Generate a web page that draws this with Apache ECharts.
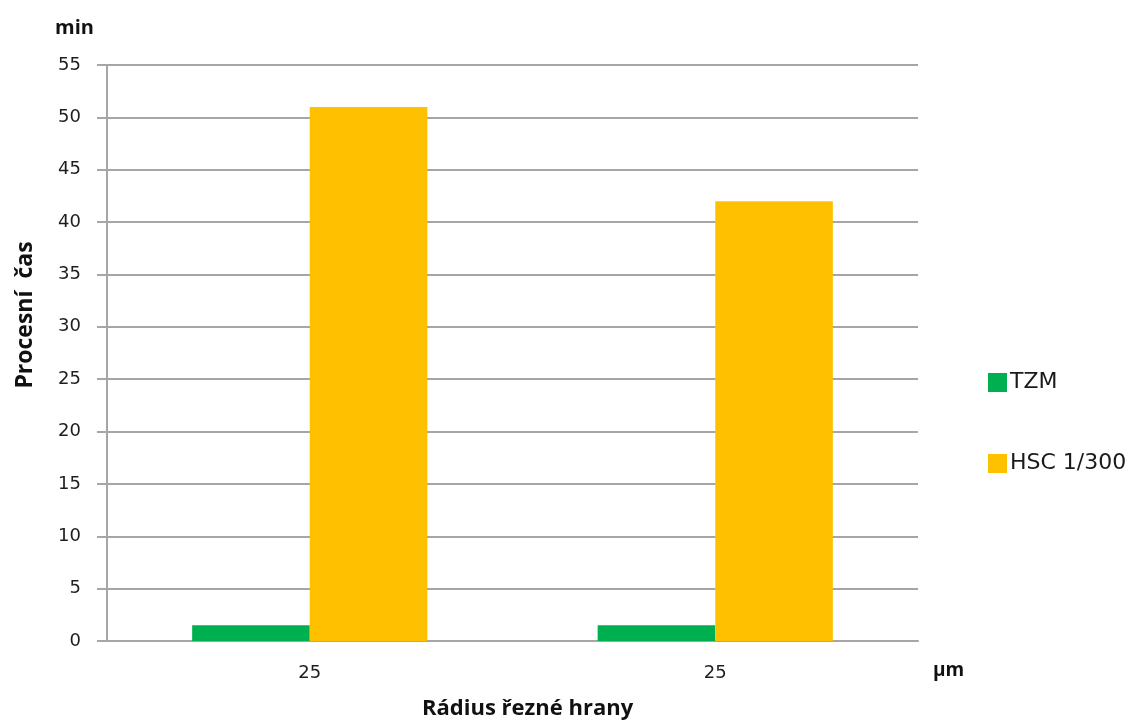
<!DOCTYPE html>
<html>
<head>
<meta charset="utf-8">
<script src="https://cdn.jsdelivr.net/npm/echarts@6/dist/echarts.min.js"></script>
<style>
  html, body { margin: 0; padding: 0; background: #fff; }
  #chart { width: 1136px; height: 724px; }
</style>
</head>
<body>
<div id="chart"></div>
<script>
// Cutting edge radius (µm) per test group
const categories = ['25', '25'];
// Process time in minutes
const tzmValues = [1.5, 1.5];
const hscValues = [51, 42];
const yTicks = { min: 0, max: 55, interval: 5 };

const labelFont = '"DejaVu Sans", Verdana, sans-serif';
const titleFont = '"Open Sans", "Liberation Sans", sans-serif';
const chart = echarts.init(document.getElementById('chart'));
chart.setOption({
  animation: false,
  backgroundColor: '#ffffff',
  grid: { left: 107, right: 218, top: 65, bottom: 83 },
  legend: {
    orient: 'vertical',
    left: 983,
    top: 366,
    itemWidth: 19,
    itemHeight: 19,
    itemGap: 58,
    icon: 'rect',
    textStyle: { fontFamily: labelFont, fontSize: 22, lineHeight: 23, color: '#1a1a1a', padding: [0, 0, 0, -2] },
    data: ['TZM', 'HSC 1/300']
  },
  xAxis: {
    type: 'category',
    data: categories,
    axisLine: { lineStyle: { color: '#a6a6a6', width: 2 } },
    axisTick: { show: false },
    axisLabel: { margin: 23, fontFamily: labelFont, fontSize: 18, color: '#1e1e1e' }
  },
  yAxis: {
    type: 'value',
    min: yTicks.min,
    max: yTicks.max,
    interval: yTicks.interval,
    axisLine: { show: true, lineStyle: { color: '#a6a6a6', width: 2 } },
    axisTick: { show: true, length: 10, lineStyle: { color: '#a6a6a6', width: 2 } },
    splitLine: { lineStyle: { color: '#a6a6a6', width: 2 } },
    axisLabel: { margin: 26, fontFamily: labelFont, fontSize: 18, color: '#1e1e1e' }
  },
  series: [
    {
      name: 'TZM', type: 'bar', data: tzmValues,
      itemStyle: { color: '#00b050' },
      barGap: '0%', barCategoryGap: '42%'
    },
    {
      name: 'HSC 1/300', type: 'bar', data: hscValues,
      itemStyle: { color: '#ffc000' },
      barGap: '0%', barCategoryGap: '42%'
    }
  ],
  graphic: [
    { type: 'text', left: 55, top: 18, style: { text: 'min', font: 'bold 20px ' + titleFont, fill: '#111' } },
    { type: 'text', left: 933, top: 661, style: { text: 'µm', font: 'bold 19px ' + titleFont, fill: '#111' } },
    { type: 'text', left: 422, top: 698, style: { text: 'Rádius řezné hrany', font: 'bold 22px ' + titleFont, fill: '#111' } },
    {
      type: 'text', x: 25, y: 315, rotation: Math.PI / 2,
      style: { text: 'Procesní  čas', font: 'bold 23px ' + titleFont, fill: '#111', align: 'center', verticalAlign: 'middle' }
    }
  ]
});
</script>
</body>
</html>
